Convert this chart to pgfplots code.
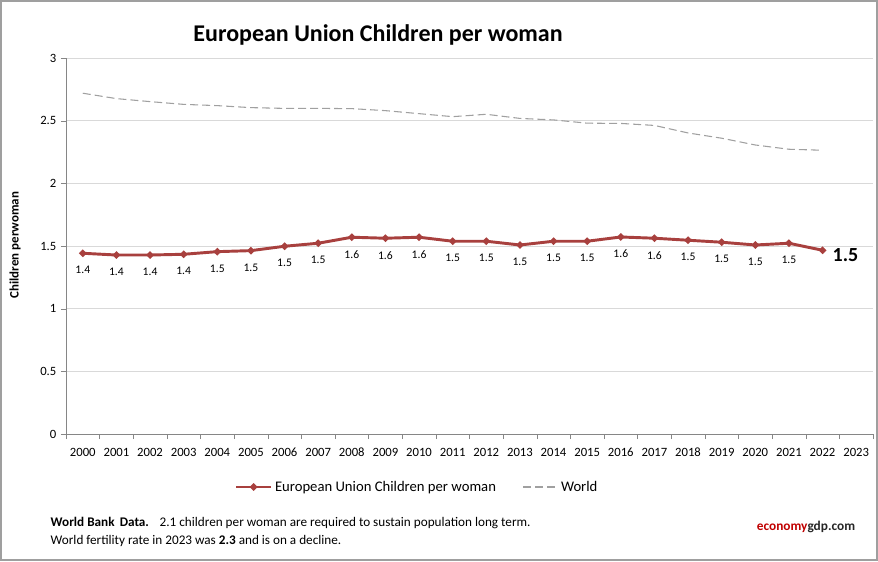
\documentclass[border=0pt]{standalone}
\usepackage{pgfplots}
\pgfplotsset{compat=1.18}
\usepackage{fontspec}
\setmainfont{Carlito}
\definecolor{eured}{RGB}{168,64,62}
\definecolor{wgray}{RGB}{160,160,160}
\definecolor{gridc}{RGB}{217,217,217}
\definecolor{axc}{RGB}{134,134,134}
\definecolor{ecored}{RGB}{192,0,0}
\begin{document}
\begin{tikzpicture}
\begin{scope}[x=0.75pt,y=0.75pt]
\useasboundingbox (0,0) rectangle (878,561);
\draw[line width=1.2pt, color=gray!75] (1,1) rectangle (877,560);
\node[font=\bfseries\fontsize{18}{21}\selectfont] at (378,526) {European Union Children per woman};
\node[rotate=90, font=\bfseries\fontsize{9.7}{11}\selectfont] at (15,316) {Children perwoman};
\node[anchor=west, font=\fontsize{9.9}{11}\selectfont] at (46,38) {\textbf{World Bank\, Data.}\hspace{8pt}2.1 children per woman are required to sustain population long term.};
\node[anchor=west, font=\fontsize{9.9}{11}\selectfont] at (46,20) {World fertility rate in 2023 was \textbf{2.3} and is on a decline.};
\node[font=\bfseries\fontsize{10}{12}\selectfont] at (806,34) {\textcolor{ecored}{economy}\textcolor{black!85}{gdp.com}};
\end{scope}
\begin{axis}[
  at={(49.5pt,95.25pt)}, anchor=south west,
  scale only axis, width=605.25pt, height=282pt,
  xmin=-0.5, xmax=23.5, ymin=0, ymax=3,
  axis x line*=bottom, axis y line*=left,
  axis line style={draw=axc},
  ytick={0,0.5,1,1.5,2,2.5,3},
  xtick={0,...,23},
  xticklabels={2000,2001,2002,2003,2004,2005,2006,2007,2008,2009,2010,2011,2012,2013,2014,2015,2016,2017,2018,2019,2020,2021,2022,2023},
  minor xtick={-0.5,0.5,1.5,2.5,3.5,4.5,5.5,6.5,7.5,8.5,9.5,10.5,11.5,12.5,13.5,14.5,15.5,16.5,17.5,18.5,19.5,20.5,21.5,22.5,23.5},
  tick align=outside,
  major tick length=3.75pt, minor tick length=3.75pt,
  major x tick style={draw=none},
  minor x tick style={draw=axc},
  ytick style={draw=axc},
  ymajorgrids, grid style={gridc, line width=0.6pt},
  tick label style={font=\fontsize{9.5}{11}\selectfont},
  xticklabel style={text height=1.55ex, text depth=0.15ex, yshift=-2.5pt},
  /pgf/number format/assume math mode=true,
  legend style={at={(0.4355,-0.141)}, anchor=center, draw=none, fill=none,
    legend columns=2, font=\fontsize{11}{13}\selectfont,
    /tikz/every even column/.append style={column sep=18pt}},
  legend image code/.code={\draw[mark repeat=2,mark phase=2,#1] plot coordinates {(0pt,0pt) (13pt,0pt) (26pt,0pt)};},
  clip=false,
]
\addplot[color=eured, line width=2.2pt, mark=*, mark size=1.4pt, mark options={solid}] table {
x y
0 1.442
1 1.428
2 1.428
3 1.434
4 1.455
5 1.463
6 1.498
7 1.522
8 1.570
9 1.562
10 1.570
11 1.538
12 1.538
13 1.508
14 1.538
15 1.538
16 1.572
17 1.562
18 1.546
19 1.530
20 1.508
21 1.522
22 1.466
};
\addlegendentry{European Union Children per woman}
\addplot[color=wgray, line width=0.8pt, dash pattern=on 6pt off 3pt] table {
x y
0 2.719
1 2.676
2 2.652
3 2.630
4 2.620
5 2.604
6 2.598
7 2.598
8 2.596
9 2.580
10 2.556
11 2.532
12 2.551
13 2.518
14 2.506
15 2.480
16 2.478
17 2.462
18 2.402
19 2.360
20 2.306
21 2.272
22 2.264
};
\addlegendentry{World}
\addplot[draw=none, mark=none, forget plot,
  nodes near coords, point meta=explicit symbolic,
  every node near coord/.style={anchor=center, yshift=-12.75pt, font=\fontsize{8.7}{10}\selectfont, text=black}]
  table[meta=lab] {
x y lab
0 1.442 1.4
1 1.428 1.4
2 1.428 1.4
3 1.434 1.4
4 1.455 1.5
5 1.463 1.5
6 1.498 1.5
7 1.522 1.5
8 1.570 1.6
9 1.562 1.6
10 1.570 1.6
11 1.538 1.5
12 1.538 1.5
13 1.508 1.5
14 1.538 1.5
15 1.538 1.5
16 1.572 1.6
17 1.562 1.6
18 1.546 1.5
19 1.530 1.5
20 1.508 1.5
21 1.522 1.5
};
\node[anchor=west, font=\bfseries\fontsize{15}{17}\selectfont, xshift=4pt, yshift=-3.5pt] at (axis cs:22,1.466) {1.5};
\end{axis}
\end{tikzpicture}
\end{document}
